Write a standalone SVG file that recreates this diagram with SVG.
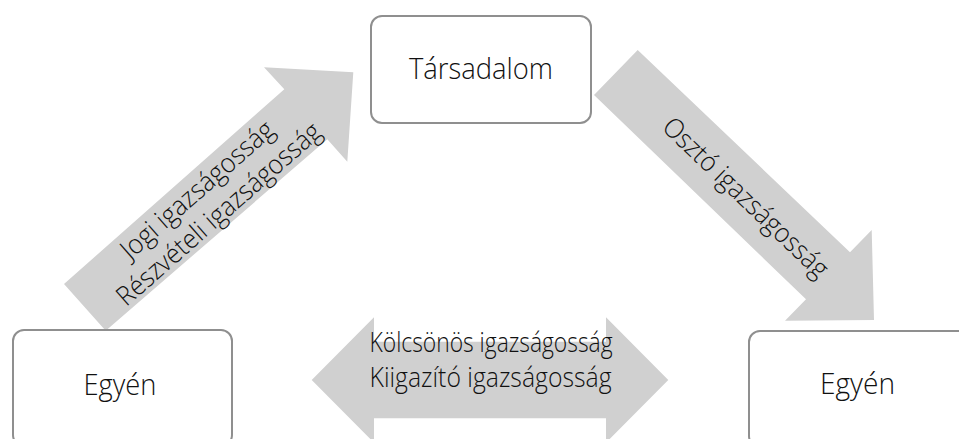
<svg xmlns="http://www.w3.org/2000/svg" width="959" height="439" viewBox="0 0 959 439">
<style>
.box{fill:#ffffff;stroke:#8f8f8f;stroke-width:2}
.arrow{fill:#d0d0d0;stroke:none}
.node{font-family:"Open Sans","Noto Sans",sans-serif;font-weight:300;font-size:30px;fill:#111111;text-anchor:middle}
.lbl{font-family:"Open Sans","Noto Sans",sans-serif;font-weight:300;font-size:27px;fill:#111111;text-anchor:middle}
</style>
<rect width="959" height="439" fill="#ffffff"/>
<g id="connectors">
  <g id="arrow-up">
    <polygon class="arrow" points="64,284 284.3,89.3 264,67.3 353.3,72.3 347.3,161.7 327.3,139.3 105.7,330.7"/>
    <g transform="translate(208.5,202.5) rotate(-41.3)">
      <text class="lbl" x="0" y="-8" textLength="194" lengthAdjust="spacingAndGlyphs">Jogi igazságosság</text>
      <text class="lbl" x="0" y="24.5" textLength="262" lengthAdjust="spacingAndGlyphs">Részvételi igazságosság</text>
    </g>
  </g>
  <g id="arrow-down">
    <polygon class="arrow" points="637.7,50 850,252.3 871.7,230 874,320 785,320.7 806,299.3 594,95"/>
    <g transform="translate(745.3,198) rotate(43.8)">
      <text class="lbl" x="0" y="8.5" textLength="218" lengthAdjust="spacingAndGlyphs">Osztó igazságosság</text>
    </g>
  </g>
  <g id="arrow-both">
    <polygon class="arrow" points="311.7,380 374,317.3 374,341.7 606,341.7 606,317.3 668.3,380 606,442.7 606,418.3 374,418.3 374,442.7"/>
    <text class="lbl" x="491" y="352" textLength="243" lengthAdjust="spacingAndGlyphs">Kölcsönös igazságosság</text>
    <text class="lbl" x="490.5" y="386.5" textLength="242" lengthAdjust="spacingAndGlyphs">Kiigazító igazságosság</text>
  </g>
</g>
<g id="node-tarsadalom">
  <rect class="box" x="371" y="16" width="220" height="107" rx="11"/>
  <text class="node" x="481" y="79" textLength="144" lengthAdjust="spacingAndGlyphs">Társadalom</text>
</g>
<g id="node-egyen-left">
  <rect class="box" x="13" y="330" width="219" height="116" rx="11"/>
  <text class="node" x="120" y="395" textLength="73" lengthAdjust="spacingAndGlyphs">Egyén</text>
</g>
<g id="node-egyen-right">
  <rect class="box" x="749" y="331" width="225" height="116" rx="11"/>
  <text class="node" x="857.5" y="394" textLength="75" lengthAdjust="spacingAndGlyphs">Egyén</text>
</g>
</svg>
